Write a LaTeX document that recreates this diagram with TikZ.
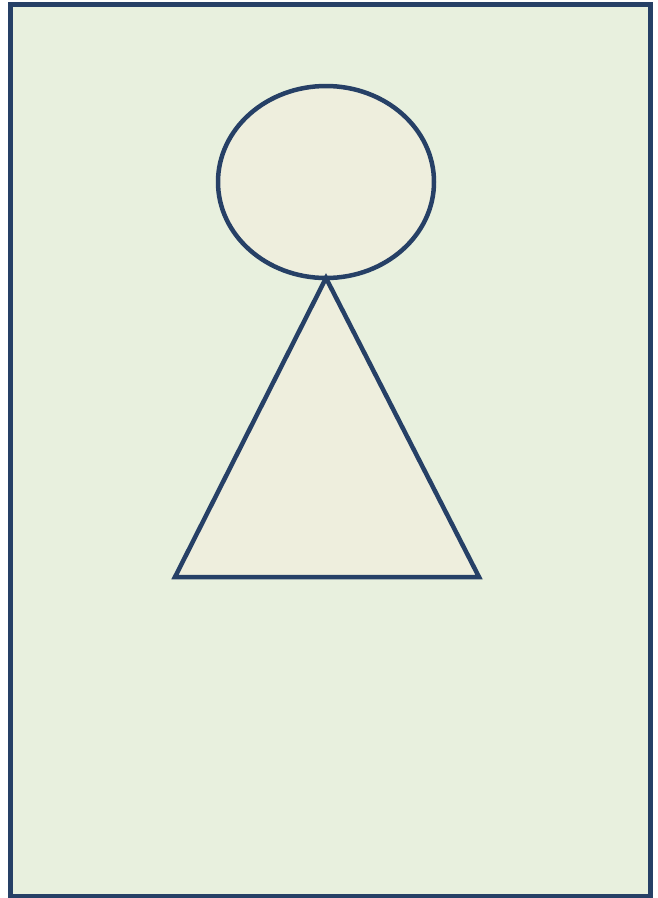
\documentclass[tikz,border=0pt]{standalone}
\definecolor{figureblue}{RGB}{38,64,102}
\definecolor{figurepaper}{RGB}{232,240,222}
\definecolor{figurebody}{RGB}{238,238,221}

\begin{document}
\begin{tikzpicture}[x=1pt,y=-1pt,line width=4.5pt,line join=miter]
    \useasboundingbox (0,0) rectangle (657,898);
    \draw[figureblue,fill=figurepaper] (10.5,4.5) rectangle (650.5,896);

    % head and body
    \draw[figureblue,fill=figurebody] (326,182) ellipse [x radius=108, y radius=96];
    \draw[figureblue,fill=figurebody] (326,278) -- (479,577) -- (175,577) -- cycle;
  \end{tikzpicture}
\end{document}
